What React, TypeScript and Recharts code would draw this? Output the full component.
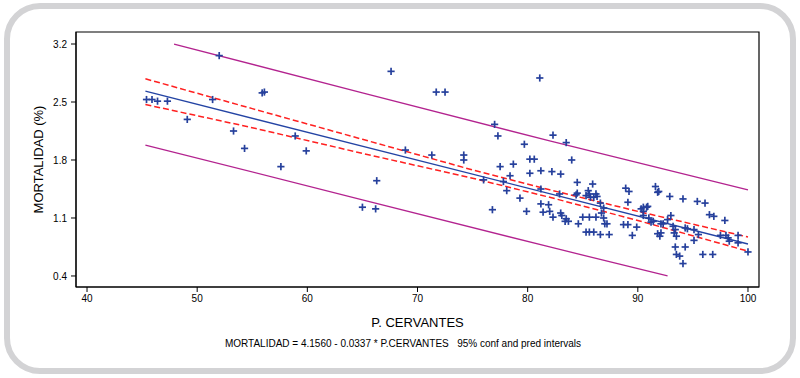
import React from 'react';
import { ScatterChart, Scatter, XAxis, YAxis, ReferenceArea } from 'recharts';

// Observed points: P. CERVANTES (x) and MORTALIDAD % (y)
const pcervantes = [
  45.4, 45.9, 46.4, 47.3, 49.1, 51.4, 52.0, 53.3, 54.3, 55.9, 56.1, 57.6, 58.9, 59.9, 65.0, 66.2, 66.3, 67.6, 68.9, 71.3,
  71.7, 72.5, 74.2, 74.2,
  76.0, 76.8, 77.0, 77.3, 77.5, 77.8, 78.1, 78.4, 78.7, 79.3, 79.7, 79.9, 80.2, 80.6, 80.2, 81.1, 81.2, 81.2, 81.2, 81.9,
  81.4, 82.0, 82.2, 82.3, 82.3, 82.9, 83.0, 83.0, 83.1, 83.5, 83.5, 83.4, 83.7, 84.0, 84.4, 84.5, 84.5, 84.6, 85.0, 85.3,
  85.3, 85.5, 85.6, 85.6, 85.6, 85.7, 85.9, 86.0, 86.0, 86.2, 86.2, 86.3, 86.6, 86.6, 86.7, 86.9, 86.9, 87.0, 87.2, 87.4,
  88.7, 88.9, 89.1, 89.1, 89.2, 89.5, 89.9, 90.3, 90.5, 90.5, 90.5, 90.8, 90.9, 91.0, 91.2, 91.4, 91.6, 91.8, 91.8, 91.9,
  92.0, 92.1, 92.1, 92.3, 92.7, 92.9, 93.0, 93.2, 93.3, 93.4, 93.4, 93.5, 93.5, 93.8, 94.1, 94.1, 94.3, 94.3, 94.5, 95.1,
  95.1, 95.4, 95.5, 95.9, 96.1, 96.5, 96.8, 96.9, 97.5, 97.9, 98.0, 98.2, 98.3, 99.1, 99.1, 100.0,
];
const mortalidad = [
  2.53, 2.53, 2.51, 2.51, 2.29, 2.53, 3.06, 2.15, 1.94, 2.61, 2.62, 1.72, 2.09, 1.91, 1.23, 1.21, 1.55, 2.87, 1.92, 1.86,
  2.62, 2.62, 1.86, 1.80,
  1.56, 1.20, 2.23, 2.09, 1.72, 1.54, 1.43, 1.61, 1.75, 1.34, 1.99, 1.18, 1.81, 1.81, 1.64, 2.79, 1.67, 1.45, 1.27, 1.26,
  1.17, 1.18, 1.66, 2.10, 1.11, 1.39, 1.63, 1.16, 1.13, 2.01, 1.09, 1.06, 1.06, 1.80, 1.38, 1.53, 1.40, 1.03, 1.11, 1.37,
  0.93, 1.43, 1.39, 1.11, 0.93, 1.35, 1.51, 0.93, 1.35, 1.39, 1.11, 1.36, 1.28, 0.90, 1.16, 1.22, 1.10, 1.03, 1.03, 0.90,
  1.02, 1.46, 1.29, 1.02, 1.42, 0.89, 0.99, 1.21, 1.23, 1.18, 1.13, 1.23, 1.24, 1.10, 1.05, 1.06, 1.48, 1.41, 0.91, 1.42,
  0.88, 0.92, 1.03, 1.03, 1.08, 1.36, 1.13, 1.00, 0.92, 0.96, 0.75, 0.88, 0.66, 0.64, 1.33, 0.55, 0.98, 0.75, 0.97, 0.96,
  0.83, 1.30, 0.90, 0.66, 1.28, 1.14, 0.66, 1.12, 0.89, 1.07, 0.89, 0.86, 0.82, 0.89, 0.80, 0.69,
];

// Fitted line
const fitX = [45.3, 100];
const fitY = [2.63, 0.786];
// 95% confidence interval
const confX = [45.3, 55, 65, 75, 82, 90, 100];
const confUpper = [2.78, 2.42, 2.05, 1.68, 1.44, 1.18, 0.87];
const confLower = [2.47, 2.19, 1.88, 1.58, 1.35, 1.07, 0.70];
// 95% prediction interval
const predUpperX = [47.9, 65, 82, 100];
const predUpperY = [3.2, 2.61, 2.03, 1.44];
const predLowerX = [45.3, 65, 82, 92.7];
const predLowerY = [1.98, 1.32, 0.75, 0.40];

const X_TICKS = [40, 50, 60, 70, 80, 90, 100];
const Y_TICKS = [0.4, 1.1, 1.8, 2.5, 3.2];

const toPts = (xs: number[], ys: number[]) => xs.map((x, i) => ({ x, y: ys[i] }));
const points = toPts(pcervantes, mortalidad);

const FONT = '"Liberation Sans", Arial, sans-serif';

const Plus = (props: any) => {
  const { cx, cy } = props;
  if (cx == null || cy == null) return <g />;
  return (
    <g stroke="#26409c" strokeWidth={1.7}>
      <line x1={cx - 3.6} y1={cy} x2={cx + 3.6} y2={cy} />
      <line x1={cx} y1={cy - 3.6} x2={cx} y2={cy + 3.6} />
    </g>
  );
};
const Empty = () => <g />;

export default function App() {
  return (
    <div style={{ position: 'absolute', left: 0, top: 0, width: 800, height: 378, background: '#fff', fontFamily: FONT }}>
      <div
        style={{
          position: 'absolute', left: 4, top: 3, width: 792, height: 371, boxSizing: 'border-box',
          border: '6px solid #d3d3d5', borderRadius: 36,
        }}
      />
      <div style={{ position: 'absolute', left: 0, top: 0 }}>
        <ScatterChart width={800} height={378} margin={{ top: 32, right: 41, bottom: 51, left: 0 }}>
          <XAxis
            type="number" dataKey="x" domain={[39, 101]} ticks={X_TICKS} allowDataOverflow
            height={40} tickSize={5} tickMargin={3}
            stroke="#000" tick={{ fill: '#000', fontSize: 10, fontFamily: FONT }}
            label={{ value: 'P. CERVANTES', position: 'insideBottom', offset: 0, fill: '#000', fontSize: 13, fontFamily: FONT }}
          />
          <YAxis
            type="number" dataKey="y" domain={[0.267, 3.345]} ticks={Y_TICKS} allowDataOverflow
            width={76} tickSize={5} tickMargin={4}
            stroke="#000" tick={{ fill: '#000', fontSize: 10, fontFamily: FONT }}
            label={{ value: 'MORTALIDAD (%)', angle: -90, position: 'center', fill: '#000', fontSize: 13, fontFamily: FONT }}
          />
          <ReferenceArea x1={39} x2={101} y1={0.267} y2={3.345} fill="none" stroke="#000" strokeWidth={1.2} ifOverflow="visible" />
          <Scatter data={toPts(predUpperX, predUpperY)} line={{ stroke: '#b3238f', strokeWidth: 1.3 }} shape={Empty} isAnimationActive={false} />
          <Scatter data={toPts(predLowerX, predLowerY)} line={{ stroke: '#b3238f', strokeWidth: 1.3 }} shape={Empty} isAnimationActive={false} />
          <Scatter data={toPts(confX, confUpper)} line={{ stroke: '#ff2020', strokeWidth: 1.5, strokeDasharray: '6 3' }} shape={Empty} isAnimationActive={false} />
          <Scatter data={toPts(confX, confLower)} line={{ stroke: '#ff2020', strokeWidth: 1.5, strokeDasharray: '6 3' }} shape={Empty} isAnimationActive={false} />
          <Scatter data={toPts(fitX, fitY)} line={{ stroke: '#2444a4', strokeWidth: 1.3 }} shape={Empty} isAnimationActive={false} />
          <Scatter data={points} shape={Plus} isAnimationActive={false} />
        </ScatterChart>
      </div>
      <div
        style={{
          position: 'absolute', left: 0, top: 339, width: 806, textAlign: 'center',
          fontSize: 10, lineHeight: '10px', color: '#000', whiteSpace: 'pre', fontFamily: FONT,
        }}
      >
        {'MORTALIDAD = 4.1560 - 0.0337 * P.CERVANTES   95% conf and pred intervals'}
      </div>
    </div>
  );
}
